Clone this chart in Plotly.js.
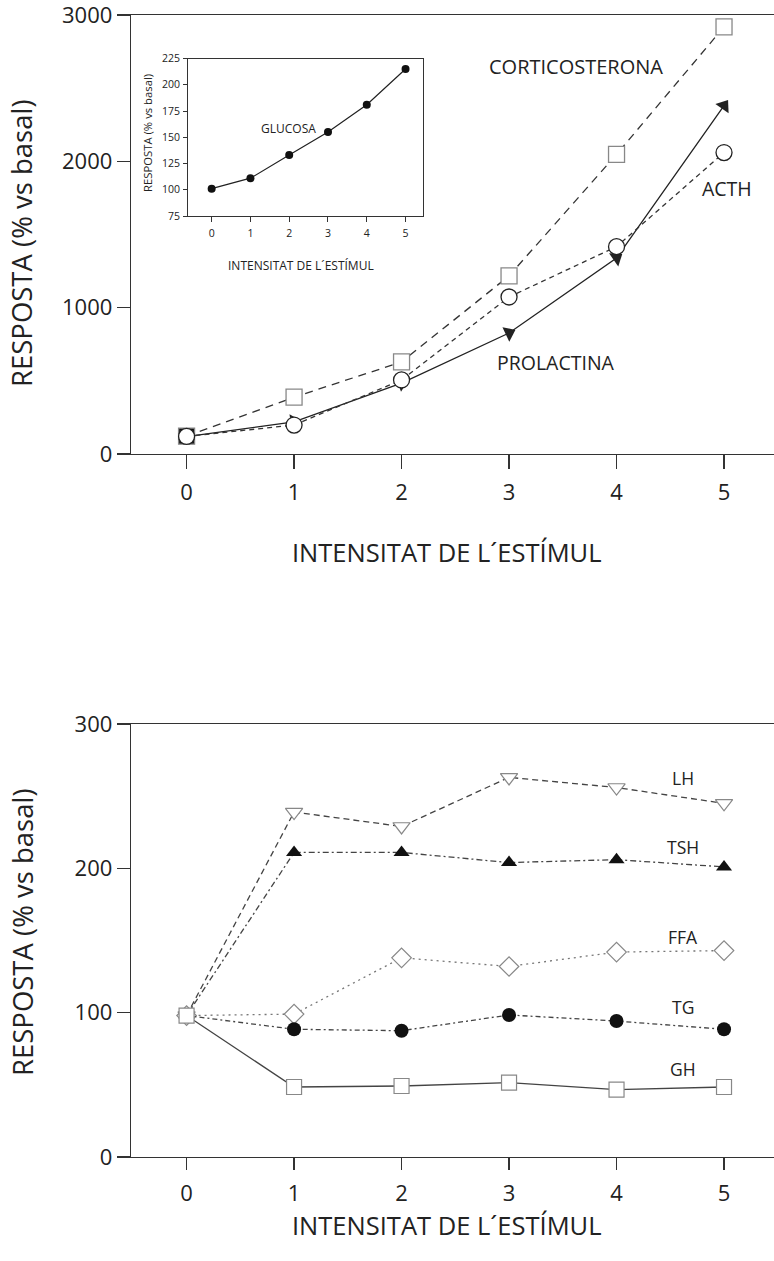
<!DOCTYPE html>
<html>
<head>
<meta charset="utf-8">
<script src="https://cdn.plot.ly/plotly-3.0.1.min.js"></script>
<style>html,body{margin:0;padding:0;background:#fff}#chart{width:774px;height:1261px}</style>
</head>
<body>
<div id="chart"></div>
<script>
// ---- data ----
const intensitat = [0, 1, 2, 3, 4, 5];
const corticosterona = [122, 388, 629, 1217, 2047, 2919];
const acth = [120, 198, 506, 1073, 1417, 2060];
const prolactina = [118, 220, 485, 827, 1340, 2380];
const glucosa = [101, 111, 133, 155, 181, 215];
const lh = [98, 239, 229, 263, 256, 245];
const tsh = [98, 211, 211, 204, 206, 201];
const ffa = [98, 99, 138, 132, 142, 143];
const tg = [98, 88.5, 87.5, 98.4, 94.2, 88.5];
const gh = [98, 48.5, 49.2, 51.5, 46.7, 48.5];
const xTicks = [0, 1, 2, 3, 4, 5];
const yTicksTop = [0, 1000, 2000, 3000];
const yTicksInset = [75, 100, 125, 150, 175, 200, 225];
const yTicksBottom = [0, 100, 200, 300];
const xTitle = "INTENSITAT DE L\u00B4EST\u00CDMUL";
const yTitle = "RESPOSTA (% vs basal)";

// ---- layout helpers ----
const W = 774, H = 1261;
const px = v => v / W;
const py = v => 1 - v / H;
const FONT = "'Open Sans', 'DejaVu Sans', sans-serif";
const INK = "#222";

const traces = [
  {x: intensitat, y: prolactina, xaxis: 'x', yaxis: 'y', mode: 'lines+markers',
   line: {color: INK, width: 1.3},
   marker: {symbol: 'triangle-up', size: 14, color: INK, angleref: 'previous'}},
  {x: intensitat, y: corticosterona, xaxis: 'x', yaxis: 'y', mode: 'lines+markers',
   line: {color: '#333', width: 1.3, dash: '8px,6px'},
   marker: {symbol: 'square', size: 16, color: ['#111', '#fff', '#fff', '#fff', '#fff', '#fff'],
            line: {color: '#888', width: 1.3}}},
  {x: intensitat, y: acth, xaxis: 'x', yaxis: 'y', mode: 'lines+markers',
   line: {color: '#333', width: 1.3, dash: '5px,4px'},
   marker: {symbol: 'circle', size: 16, color: '#fff', line: {color: INK, width: 1.3}}},

  {x: intensitat, y: glucosa, xaxis: 'x3', yaxis: 'y3', mode: 'lines+markers',
   line: {color: INK, width: 1.2},
   marker: {symbol: 'circle', size: 8, color: '#111'}},

  {x: intensitat, y: lh, xaxis: 'x2', yaxis: 'y2', mode: 'lines+markers',
   line: {color: '#444', width: 1.3, dash: '6px,4px'},
   marker: {symbol: 'triangle-down', size: 15, color: '#fff', line: {color: '#888', width: 1.2}}},
  {x: intensitat, y: tsh, xaxis: 'x2', yaxis: 'y2', mode: 'lines+markers',
   line: {color: '#444', width: 1.3, dash: '6px,3px,2px,3px'},
   marker: {symbol: 'triangle-up', size: 14, color: '#111'}},
  {x: intensitat, y: ffa, xaxis: 'x2', yaxis: 'y2', mode: 'lines+markers',
   line: {color: '#777', width: 1.3, dash: '2px,4px'},
   marker: {symbol: 'diamond', size: 15, color: '#fff', line: {color: '#888', width: 1.2}}},
  {x: intensitat, y: tg, xaxis: 'x2', yaxis: 'y2', mode: 'lines+markers',
   line: {color: '#444', width: 1.3, dash: '5px,3px,2px,3px'},
   marker: {symbol: 'circle', size: 14, color: '#111'}},
  {x: intensitat, y: gh, xaxis: 'x2', yaxis: 'y2', mode: 'lines+markers',
   line: {color: '#444', width: 1.3},
   marker: {symbol: 'square', size: 15, color: '#fff', line: {color: '#888', width: 1.2}}}
];

const axBase = {
  showgrid: false, zeroline: false, showline: true, linecolor: '#333', linewidth: 1.3,
  ticks: 'outside', tickcolor: '#333', tickwidth: 1.3, fixedrange: true,
  ticklabeloverflow: 'allow'
};

const layout = {
  width: W, height: H,
  margin: {l: 0, r: 0, t: 0, b: 0},
  paper_bgcolor: '#fff', plot_bgcolor: '#fff',
  showlegend: false,
  font: {family: FONT, color: INK},
  xaxis: Object.assign({}, axBase, {
    domain: [px(131), 1], range: [-0.517, 5.465], anchor: 'y', mirror: true,
    tickvals: xTicks, ticklen: 14, ticklabelstandoff: 4,
    tickfont: {size: 22, family: FONT, color: INK}
  }),
  yaxis: Object.assign({}, axBase, {
    domain: [py(454), py(15)], range: [0, 3000], anchor: 'x',
    tickvals: yTicksTop, ticklen: 13, ticklabelstandoff: 0,
    tickfont: {size: 22, family: FONT, color: INK}
  }),
  xaxis2: Object.assign({}, axBase, {
    domain: [px(131), 1], range: [-0.517, 5.465], anchor: 'y2', mirror: true,
    tickvals: xTicks, ticklen: 12, ticklabelstandoff: 4,
    tickfont: {size: 22, family: FONT, color: INK}
  }),
  yaxis2: Object.assign({}, axBase, {
    domain: [py(1157), py(724)], range: [0, 300], anchor: 'x2',
    tickvals: yTicksBottom, ticklen: 13, ticklabelstandoff: 0,
    tickfont: {size: 22, family: FONT, color: INK}
  }),
  xaxis3: Object.assign({}, axBase, {
    domain: [px(188), px(423)], range: [-0.61, 5.45], anchor: 'y3', mirror: true,
    linewidth: 1, tickwidth: 1,
    tickvals: xTicks, ticklen: 5, ticklabelstandoff: 2,
    tickfont: {size: 10.5, family: FONT, color: INK}
  }),
  yaxis3: Object.assign({}, axBase, {
    domain: [py(216), py(58.5)], range: [75, 225], anchor: 'x3', mirror: true,
    linewidth: 1, tickwidth: 1,
    tickvals: yTicksInset, ticklen: 4, ticklabelstandoff: 1,
    tickfont: {size: 10.5, family: FONT, color: INK}
  }),
  annotations: []
};

function label(text, x, y, size, angle) {
  const a = {text: text, xref: 'paper', yref: 'paper', x: px(x), y: py(y),
             xanchor: 'center', yanchor: 'middle', showarrow: false,
             font: {size: size, family: FONT, color: INK}};
  if (angle) a.textangle = angle;
  layout.annotations.push(a);
}
label(xTitle, 447, 552, 25.5);
label(xTitle, 447, 1225, 25.5);
label(yTitle, 22, 243, 27.5, -90);
label(yTitle, 22, 932, 27.5, -90);
label(xTitle, 301, 265, 12);
label(yTitle, 148, 133, 11.3, -90);
label('GLUCOSA', 288, 129, 12);
label('CORTICOSTERONA', 576, 66, 20);
label('ACTH', 727, 188, 19.5);
label('PROLACTINA', 556, 363, 19.5);
label('LH', 683, 778, 17.5);
label('TSH', 683, 847, 17.5);
label('FFA', 683, 937, 17.5);
label('TG', 683, 1007, 17.5);
label('GH', 683, 1069, 17.5);

Plotly.newPlot('chart', traces, layout, {displayModeBar: false, staticPlot: true});
</script>
</body>
</html>
